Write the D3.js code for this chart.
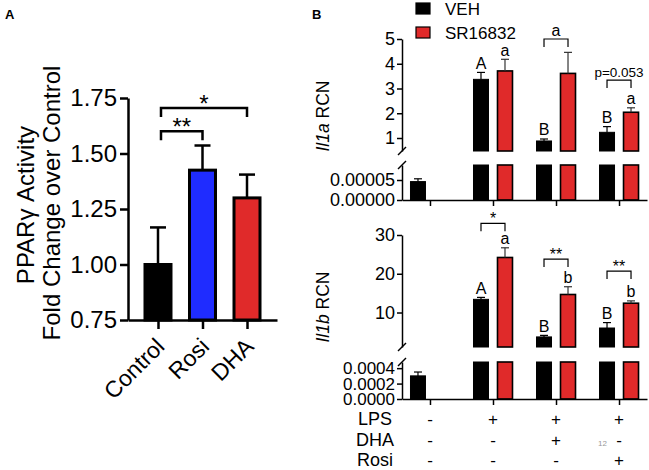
<!DOCTYPE html>
<html><head><meta charset="utf-8">
<script src="https://cdn.jsdelivr.net/npm/d3@7"></script>
<style>
body{margin:0;background:#fff}
svg{display:block}
text{font-family:Arial,"Liberation Sans",sans-serif;fill:#000}
</style>
</head><body>
<svg id="chart" width="649" height="470"></svg>
<script>
// ---------- Panel A data ----------
const categoriesA = ["Control", "Rosi", "DHA"];
const valuesA = [1.00, 1.425, 1.30];
const errorsA = [0.167, 0.111, 0.105];
const colorsA = ["#000000", "#1f2cff", "#e02a2a"];
const ticksA = [0.75, 1.00, 1.25, 1.50, 1.75];
const bracketsA = [
  {from: "Control", to: "Rosi", y: 1.60, label: "**"},
  {from: "Control", to: "DHA", y: 1.705, label: "*"}
];

// ---------- Panel B data ----------
const groupsB = ["Control", "LPS", "LPS+DHA", "LPS+Rosi"];
const seriesB = ["VEH", "SR16832"];
const seriesColors = ["#000000", "#e02a2a"];
const il1aVEH = [0.000046, 3.37, 0.88, 1.23];
const il1aVEHErr = [0.000007, 0.28, 0.08, 0.23];
const il1aSR = [null, 3.71, 3.61, 2.04];
const il1aSRErr = [null, 0.47, 0.85, 0.18];
const il1bVEH = [0.00030, 13.4, 3.7, 6.0];
const il1bVEHErr = [0.00005, 0.5, 0.4, 1.4];
const il1bSR = [null, 24.2, 14.65, 12.4];
const il1bSRErr = [null, 2.5, 2.0, 0.6];
const il1aVEHLetters = ["", "A", "B", "B"];
const il1aSRLetters = ["", "a", "", "a"];
const il1bVEHLetters = ["", "A", "B", "B"];
const il1bSRLetters = ["", "a", "b", "b"];
const il1aBrackets = [{group: "LPS+DHA", y: 5.0, label: "a"}, {group: "LPS+Rosi", y: 3.34, label: "p=0.053"}];
const il1bBrackets = [{group: "LPS", y: 33.0, label: "*"}, {group: "LPS+DHA", y: 23.8, label: "**"}, {group: "LPS+Rosi", y: 20.7, label: "**"}];
const il1aUpperTicks = [1, 2, 3, 4, 5];
const il1aLowerTicks = [0, 0.00005];
const il1bUpperTicks = [10, 20, 30];
const il1bLowerTicks = [0, 0.0002, 0.0004];
const tableRows = ["LPS", "DHA", "Rosi"];
const lpsRow = ["-", "+", "+", "+"];
const dhaRow = ["-", "-", "+", "-"];
const rosiRow = ["-", "-", "-", "+"];

const svg = d3.select("#chart");

// Panel letters
svg.append("text").attr("x", 5).attr("y", 19).attr("font-size", 13).attr("font-weight", "bold").text("A");
svg.append("text").attr("x", 312).attr("y", 19).attr("font-size", 13).attr("font-weight", "bold").text("B");

// ================= Panel A =================
(function(){
  const yA = d3.scaleLinear().domain([0.75, 1.75]).range([320, 98]);
  const xA = d3.scalePoint().domain(categoriesA).range([128, 277]).padding(0.674);
  const g = svg.append("g");
  const bw = 26;

  g.selectAll("rect.barA").data(categoriesA).join("rect")
    .attr("x", d => xA(d) - bw/2).attr("width", bw)
    .attr("y", (d,i) => yA(valuesA[i])).attr("height", (d,i) => yA(0.75) - yA(valuesA[i]))
    .attr("fill", (d,i) => colorsA[i]).attr("stroke", "#000").attr("stroke-width", 3);

  categoriesA.forEach((c,i) => {
    const x = xA(c), y0 = yA(valuesA[i]), y1 = yA(valuesA[i] + errorsA[i]);
    g.append("line").attr("x1", x).attr("x2", x).attr("y1", y0).attr("y2", y1).attr("stroke", "#000").attr("stroke-width", 2.5);
    g.append("line").attr("x1", x - 8).attr("x2", x + 8).attr("y1", y1).attr("y2", y1).attr("stroke", "#000").attr("stroke-width", 2.5);
  });

  const ay = g.append("g").attr("transform", "translate(128,0)")
    .call(d3.axisLeft(yA).tickValues(ticksA).tickFormat(d3.format(".2f")).tickSize(8).tickSizeOuter(0).tickPadding(3));
  const ax = g.append("g").attr("transform", "translate(0,320)")
    .call(d3.axisBottom(xA).tickSize(9).tickSizeOuter(0).tickFormat(""));
  [ay, ax].forEach(a => {
    a.selectAll("path,line").attr("stroke", "#000").attr("stroke-width", 2.5);
  });
  ay.selectAll("text").attr("font-size", 24).attr("font-family", "Arial, Liberation Sans, sans-serif").attr("fill", "#000");

  categoriesA.forEach(c => {
    g.append("text").attr("text-anchor", "end").attr("font-size", 23)
      .attr("transform", `translate(${xA(c) + 8},348) rotate(-45)`).text(c);
  });

  g.append("text").attr("text-anchor", "middle").attr("font-size", 24)
    .attr("transform", "translate(34,205) rotate(-90)").text("PPARγ Activity");
  g.append("text").attr("text-anchor", "middle").attr("font-size", 24)
    .attr("transform", "translate(60,203) rotate(-90)").text("Fold Change over Control");

  bracketsA.forEach(b => {
    const x1 = xA(b.from) + 3, x2 = xA(b.to), y = yA(b.y);
    g.append("path").attr("d", `M${x1},${y + 9}V${y}H${x2}V${y + 9}`)
      .attr("fill", "none").attr("stroke", "#000").attr("stroke-width", 2.5);
    g.append("text").attr("x", (x1 + x2) / 2).attr("y", y + 4).attr("text-anchor", "middle")
      .attr("font-size", 24).text(b.label);
  });
})();

// ================= Panel B =================
const xB = d3.scalePoint().domain(groupsB).range([402, 647]).padding(0.444);
const offsets = [-12, 12];
const bwB = 15;

function drawBreakPanel(cfg) {
  const g = svg.append("g");
  const upper = d3.scaleLinear().domain(cfg.upperDomain).range(cfg.upperRange);
  const lower = d3.scaleLinear().domain(cfg.lowerDomain).range(cfg.lowerRange);
  const lowerMax = cfg.lowerDomain[1];
  const axisX = 402;
  const baseY = cfg.lowerRange[0];

  const seriesVals = [cfg.veh, cfg.sr];
  const seriesErr = [cfg.vehErr, cfg.srErr];
  const seriesLet = [cfg.vehLetters, cfg.srLetters];

  seriesVals.forEach((vals, s) => {
    vals.forEach((v, i) => {
      if (v === null) return;
      const cx = xB(groupsB[i]) + offsets[s];
      const fill = seriesColors[s];
      const sw = s === 1 ? 1.6 : 1;
      let topY, errY;
      if (v <= lowerMax) {
        g.append("rect").attr("x", cx - bwB/2).attr("width", bwB)
          .attr("y", lower(v)).attr("height", baseY - lower(v))
          .attr("fill", fill).attr("stroke", "#000").attr("stroke-width", sw);
        topY = lower(v); errY = lower(v + seriesErr[s][i]);
      } else {
        g.append("rect").attr("x", cx - bwB/2).attr("width", bwB)
          .attr("y", lower(lowerMax)).attr("height", baseY - lower(lowerMax))
          .attr("fill", fill).attr("stroke", "#000").attr("stroke-width", sw);
        g.append("rect").attr("x", cx - bwB/2).attr("width", bwB)
          .attr("y", upper(v)).attr("height", upper(cfg.upperDomain[0]) - upper(v))
          .attr("fill", fill).attr("stroke", "#000").attr("stroke-width", sw);
        topY = upper(v); errY = upper(v + seriesErr[s][i]);
      }
      const ec = s === 1 ? "#333" : "#000";
      g.append("line").attr("x1", cx).attr("x2", cx).attr("y1", topY).attr("y2", errY).attr("stroke", ec).attr("stroke-width", 1.2);
      g.append("line").attr("x1", cx - 4).attr("x2", cx + 4).attr("y1", errY).attr("y2", errY).attr("stroke", ec).attr("stroke-width", 1.2);
      const L = seriesLet[s][i];
      if (L) {
        g.append("text").attr("x", cx).attr("y", errY - 3.5).attr("text-anchor", "middle")
          .attr("font-size", 16).text(L);
      }
    });
  });

  cfg.brackets.forEach(b => {
    const x1 = xB(b.group) + offsets[0], x2 = xB(b.group) + offsets[1], y = upper(b.y);
    g.append("path").attr("d", `M${x1},${y + 8}V${y}H${x2}V${y + 8}`)
      .attr("fill", "none").attr("stroke", "#000").attr("stroke-width", 1.2);
    const isStar = b.label.indexOf("*") >= 0;
    g.append("text").attr("x", (x1 + x2) / 2).attr("y", isStar ? y + 1 : y - 3).attr("text-anchor", "middle")
      .attr("font-size", b.label.length > 3 ? 13.5 : 16).text(b.label);
  });

  const au = g.append("g").attr("transform", `translate(${axisX},0)`)
    .call(d3.axisLeft(upper).tickValues(cfg.upperTicks).tickFormat(d3.format("d")).tickSize(5).tickSizeOuter(0).tickPadding(2));
  const al = g.append("g").attr("transform", `translate(${axisX},0)`)
    .call(d3.axisLeft(lower).tickValues(cfg.lowerTicks).tickFormat(d3.format(cfg.lowerFormat)).tickSize(5).tickSizeOuter(0).tickPadding(2));
  const ab = g.append("g").attr("transform", `translate(0,${baseY})`)
    .call(d3.axisBottom(xB).tickSize(6).tickSizeOuter(0).tickFormat(""));
  [au, al, ab].forEach(a => {
    a.selectAll("path,line").attr("stroke", "#000").attr("stroke-width", 1.5);
  });
  au.selectAll("text").attr("font-size", 18).attr("font-family", "Arial, Liberation Sans, sans-serif").attr("fill", "#000");
  al.selectAll("text").attr("font-size", cfg.lowerFont).attr("font-family", "Arial, Liberation Sans, sans-serif").attr("fill", "#000");

  [upper.range()[0], lower.range()[1]].forEach(y => {
    g.append("line").attr("x1", axisX - 4).attr("y1", y + 4).attr("x2", axisX + 4).attr("y2", y - 4)
      .attr("stroke", "#000").attr("stroke-width", 1.5);
  });

  const t = g.append("text").attr("text-anchor", "middle").attr("font-size", 17.5)
    .attr("transform", `translate(329,${cfg.labelY}) rotate(-90)`);
  t.append("tspan").attr("font-style", "italic").text(cfg.gene);
  t.append("tspan").text(" RCN");
}

drawBreakPanel({
  upperDomain: [0.475, 5], upperRange: [151, 39],
  lowerDomain: [0, 0.0000875], lowerRange: [200, 165],
  upperTicks: il1aUpperTicks, lowerTicks: il1aLowerTicks, lowerFormat: ".5f", lowerFont: 18,
  veh: il1aVEH, vehErr: il1aVEHErr, sr: il1aSR, srErr: il1aSRErr,
  vehLetters: il1aVEHLetters, srLetters: il1aSRLetters,
  brackets: il1aBrackets, gene: "Il1a", labelY: 116
});
drawBreakPanel({
  upperDomain: [1.1, 30], upperRange: [347, 235],
  lowerDomain: [0, 0.00048], lowerRange: [399, 362],
  upperTicks: il1bUpperTicks, lowerTicks: il1bLowerTicks, lowerFormat: ".4f", lowerFont: 17,
  veh: il1bVEH, vehErr: il1bVEHErr, sr: il1bSR, srErr: il1bSRErr,
  vehLetters: il1bVEHLetters, srLetters: il1bSRLetters,
  brackets: il1bBrackets, gene: "Il1b", labelY: 307
});

seriesB.forEach((s, i) => {
  svg.append("rect").attr("x", 416).attr("y", 3 + i * 24).attr("width", 14).attr("height", 11)
    .attr("fill", seriesColors[i]).attr("stroke", "#000").attr("stroke-width", 1.2);
  svg.append("text").attr("x", 445).attr("y", 15 + i * 24).attr("font-size", 17).text(s);
});

const rowsData = [lpsRow, dhaRow, rosiRow];
const rowY = [425, 446, 466];
tableRows.forEach((r, k) => {
  svg.append("text").attr("x", 375).attr("y", rowY[k]).attr("text-anchor", "middle").attr("font-size", 18).text(r);
  rowsData[k].forEach((sym, i) => {
    svg.append("text").attr("x", xB(groupsB[i])).attr("y", rowY[k]).attr("text-anchor", "middle")
      .attr("font-size", 17).text(sym);
  });
});
svg.append("text").attr("x", 598).attr("y", 446).attr("font-size", 8).style("fill", "#999").text("12");
</script>
</body></html>
